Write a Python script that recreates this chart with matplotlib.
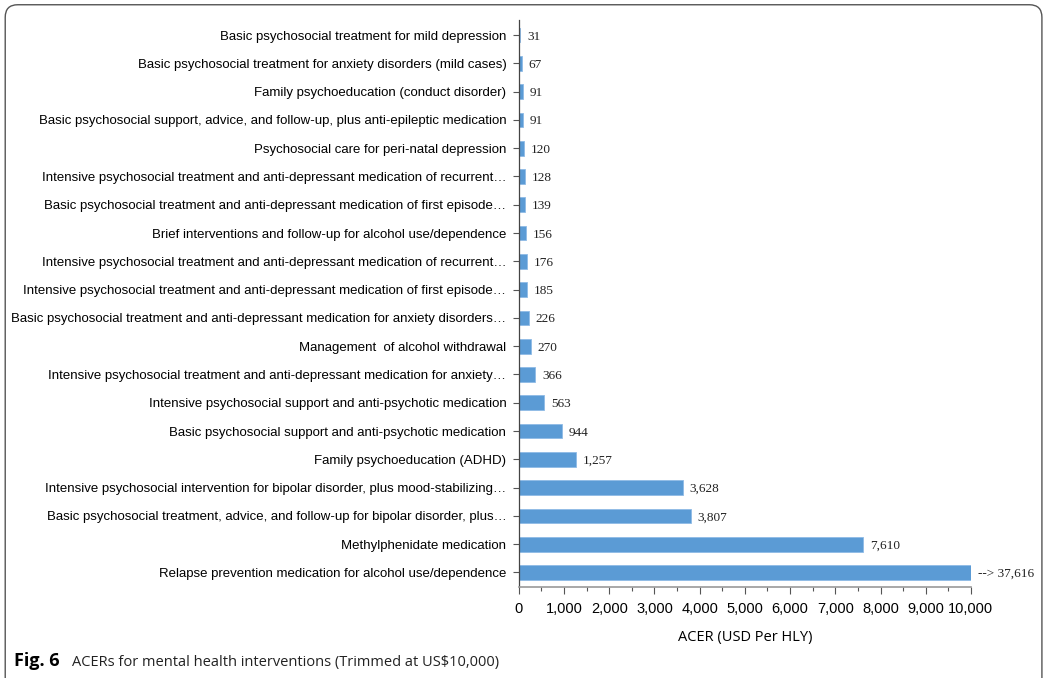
import matplotlib.pyplot as plt
from matplotlib.patches import FancyBboxPatch
from matplotlib.ticker import MultipleLocator, FuncFormatter

# intervencions, de la ACER mes alta a la mes baixa (ordre de baix a dalt)
intervencions = [
    "Relapse prevention medication for alcohol use/dependence",
    "Methylphenidate medication",
    "Basic psychosocial treatment, advice, and follow-up for bipolar disorder, plus\u2026",
    "Intensive psychosocial intervention for bipolar disorder, plus mood-stabilizing\u2026",
    "Family psychoeducation (ADHD)",
    "Basic psychosocial support and anti-psychotic medication",
    "Intensive psychosocial support and anti-psychotic medication",
    "Intensive psychosocial treatment and anti-depressant medication for anxiety\u2026",
    "Management  of alcohol withdrawal",
    "Basic psychosocial treatment and anti-depressant medication for anxiety disorders\u2026",
    "Intensive psychosocial treatment and anti-depressant medication of first episode\u2026",
    "Intensive psychosocial treatment and anti-depressant medication of recurrent\u2026",
    "Brief interventions and follow-up for alcohol use/dependence",
    "Basic psychosocial treatment and anti-depressant medication of first episode\u2026",
    "Intensive psychosocial treatment and anti-depressant medication of recurrent\u2026",
    "Psychosocial care for peri-natal depression",
    "Basic psychosocial support, advice, and follow-up, plus anti-epileptic medication",
    "Family psychoeducation (conduct disorder)",
    "Basic psychosocial treatment for anxiety disorders (mild cases)",
    "Basic psychosocial treatment for mild depression",
]
acer = [37616, 7610, 3807, 3628, 1257, 944, 563, 366, 270, 226,
        185, 176, 156, 139, 128, 120, 91, 91, 67, 31]

tall = 10000  # el grafic es talla a 10.000 USD

fig = plt.figure(figsize=(10.44, 6.78), dpi=100)
ax = fig.add_axes([0.497, 0.134, 0.433, 0.836])

y = list(range(len(acer)))
amples = [min(v, tall) for v in acer]
ax.barh(y, amples, height=0.52, color="#5b9bd5", edgecolor="#8fbbe6", linewidth=0.6)

for i, v in enumerate(acer):
    if v > tall:
        txt = "--> {:,}".format(v)
        ax.text(tall + 150, i, txt, va="center_baseline", ha="left",
                fontsize=9.5, family="Liberation Serif", color="#222222")
    else:
        ax.text(v + 150, i, "{:,}".format(v), va="center_baseline", ha="left",
                fontsize=9.5, family="Liberation Serif", color="#222222")

ax.set_xlim(0, tall)
ax.set_ylim(-0.52, len(acer) - 0.48)
ax.set_yticks(y)
ax.set_yticklabels(intervencions, family="Liberation Sans", fontsize=9.5)
ax.xaxis.set_major_locator(MultipleLocator(1000))
ax.xaxis.set_minor_locator(MultipleLocator(500))
ax.xaxis.set_major_formatter(FuncFormatter(lambda x, p: "{:,}".format(int(x))))
for lab in ax.get_xticklabels():
    lab.set_family("Liberation Sans")
    lab.set_fontsize(10.5)

ax.tick_params(axis="y", length=4, width=0.8, color="#555555", pad=5)
ax.tick_params(axis="x", which="major", length=5, width=0.8, color="#555555", pad=6)
ax.tick_params(axis="x", which="minor", length=3, width=0.8, color="#555555")
ax.spines["top"].set_visible(False)
ax.spines["right"].set_visible(False)
ax.spines["left"].set_color("#444444")
ax.spines["bottom"].set_color("#999999")
ax.spines["left"].set_linewidth(0.9)
ax.spines["bottom"].set_linewidth(1.2)

ax.set_xlabel("ACER (USD Per HLY)", family="Open Sans", fontsize=10.5, labelpad=10)

# marc arrodonit de la figura
marc = FancyBboxPatch((0.005, -0.05), 0.993, 1.043, boxstyle="round,pad=0,rounding_size=0.012",
                      transform=fig.transFigure, facecolor="none", edgecolor="#555555",
                      linewidth=1.0, mutation_aspect=1.54)
fig.patches.append(marc)

fig.text(0.013, 0.012, "Fig. 6", family="Open Sans", fontweight="bold", fontsize=13, va="bottom")
fig.text(0.069, 0.012, "ACERs for mental health interventions (Trimmed at US$10,000)",
         family="Open Sans", fontsize=10.5, va="bottom", color="#222222")

fig.savefig("out.png", dpi=100)
